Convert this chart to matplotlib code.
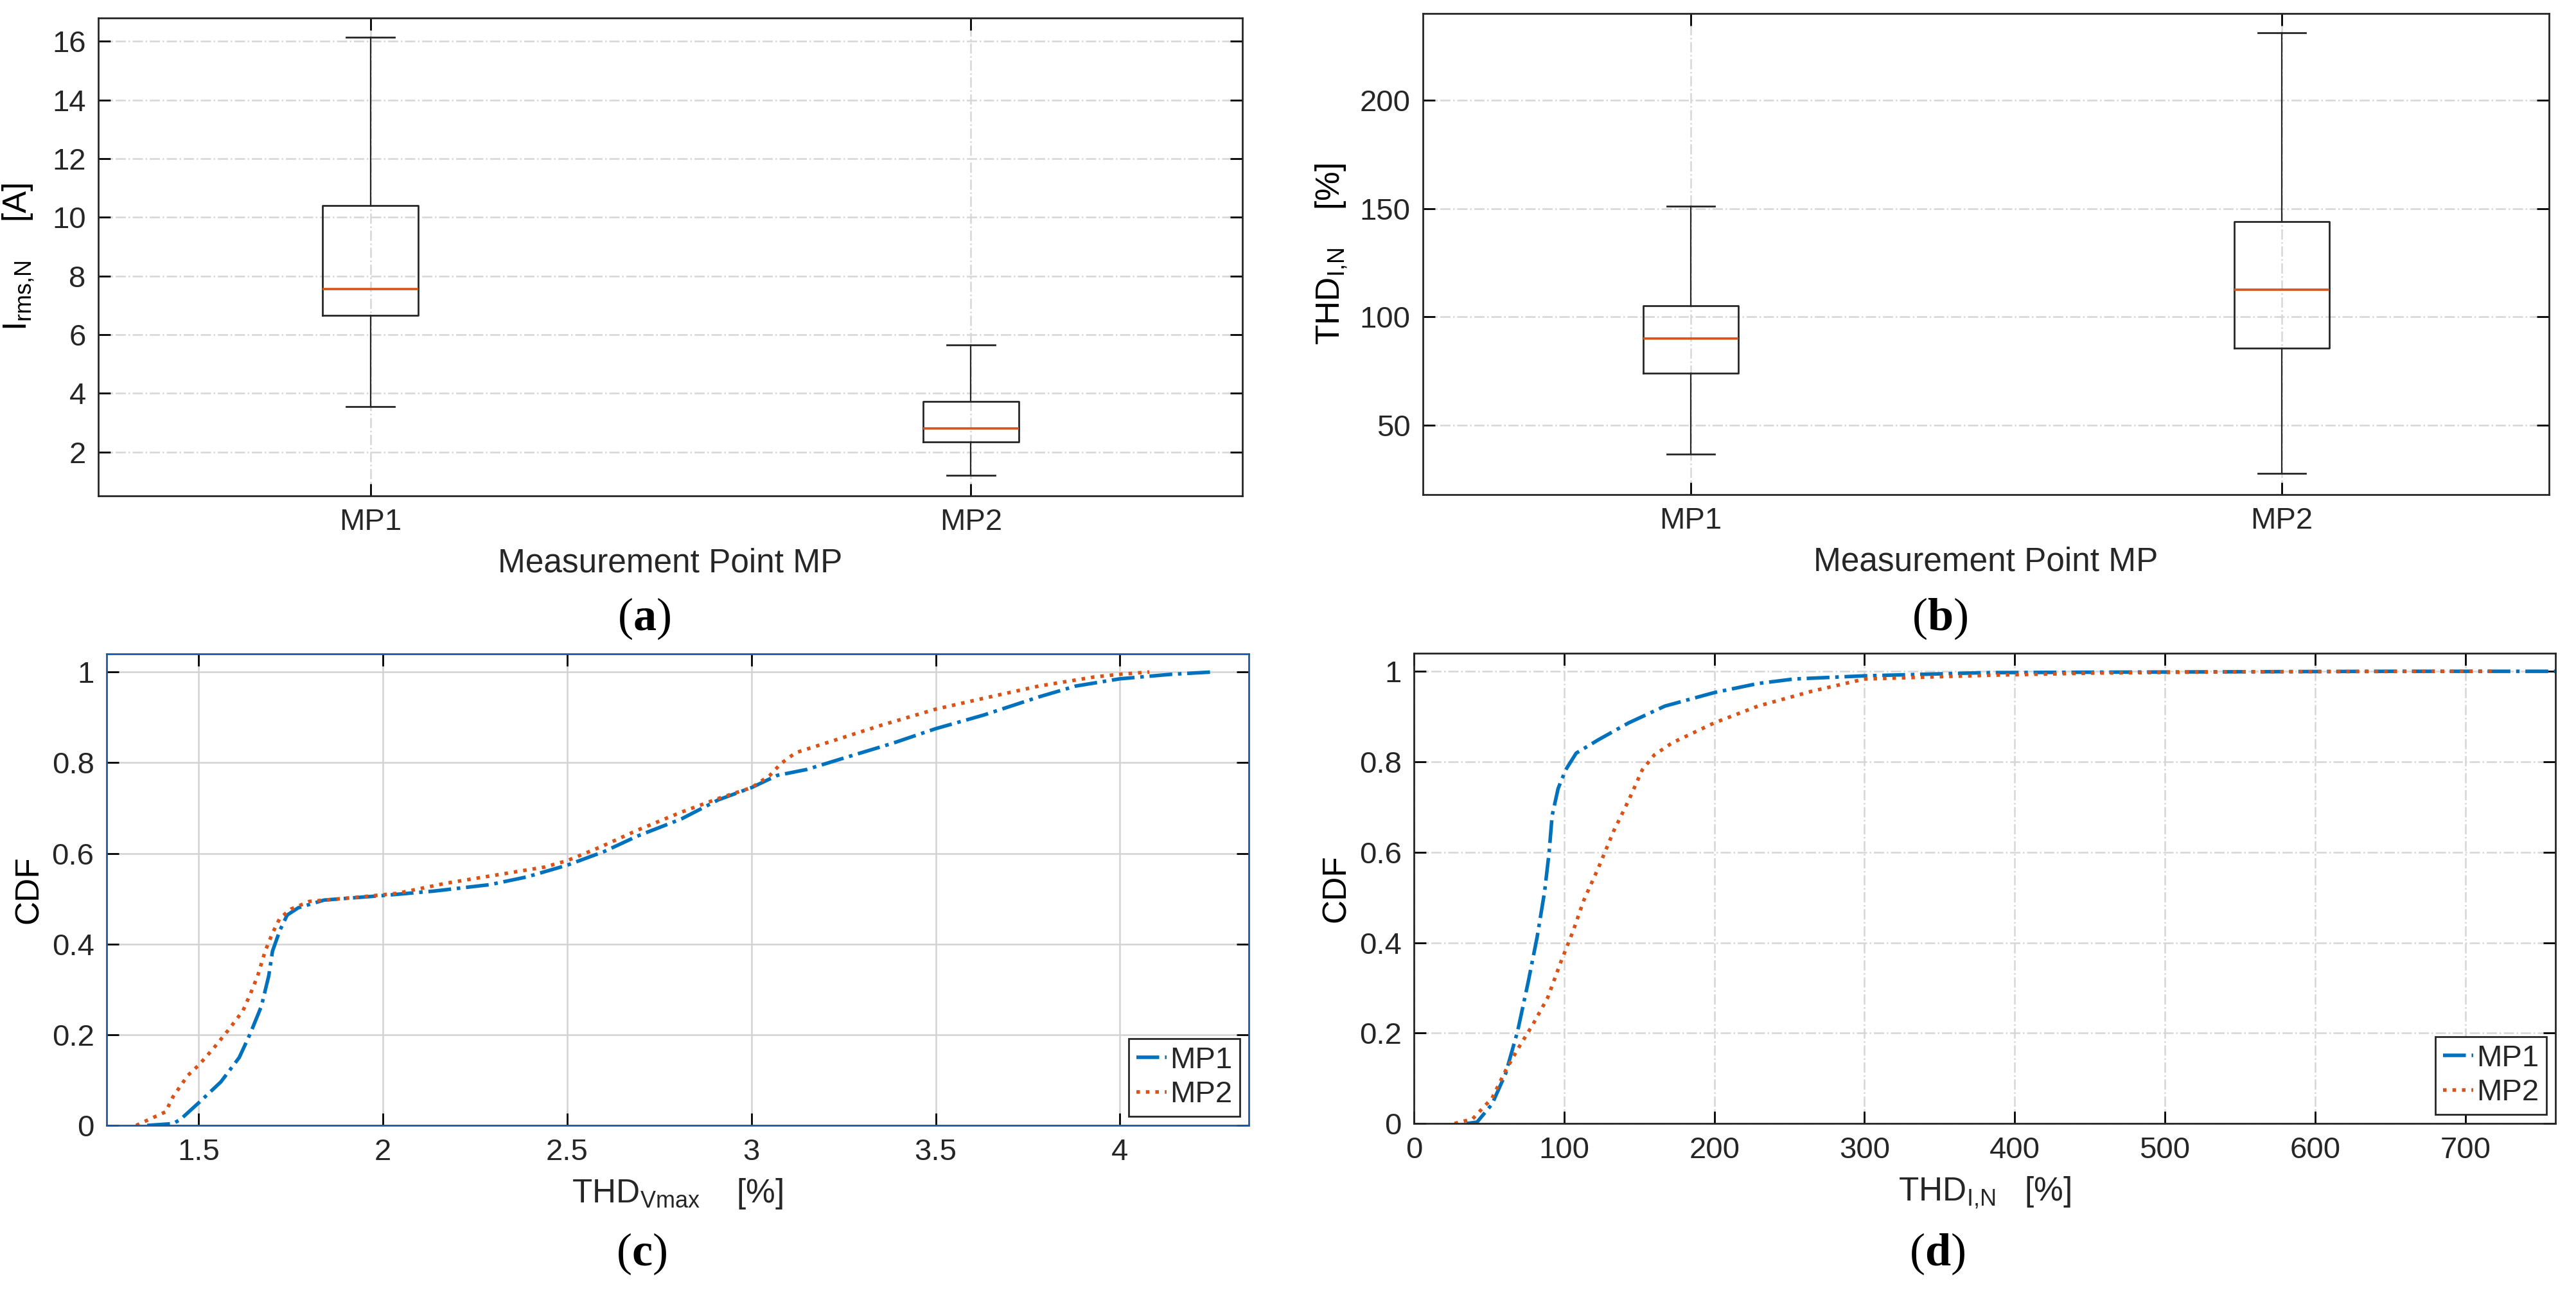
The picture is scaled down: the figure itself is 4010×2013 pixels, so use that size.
import matplotlib
matplotlib.use("Agg")
import matplotlib.pyplot as plt
from matplotlib.ticker import FormatStrFormatter

plt.rcParams['font.family'] = ['Liberation Sans', 'DejaVu Sans']
plt.rcParams['mathtext.default'] = 'regular'
plt.rcParams['mathtext.fontset'] = 'custom'
plt.rcParams['mathtext.bf'] = 'Liberation Serif:bold'

# box plot statistics
points = ["MP1", "MP2"]
irms_lo = [3.55, 1.20]
irms_q1 = [6.66, 2.35]
irms_med = [7.56, 2.80]
irms_q3 = [10.41, 3.72]
irms_hi = [16.15, 5.65]

thd_lo = [36.6, 27.7]
thd_q1 = [74.0, 85.6]
thd_med = [90.1, 112.6]
thd_q3 = [105.2, 144.0]
thd_hi = [151.0, 231.0]

# CDF of THD_Vmax
cv_x1 = [1.36, 1.43, 1.45, 1.50, 1.56, 1.61, 1.64, 1.67, 1.69, 1.70, 1.72, 1.74, 1.77, 1.84, 2.0,
         2.14, 2.29, 2.39, 2.50, 2.60, 2.69, 2.81, 2.91, 3.0, 3.07, 3.15, 3.27, 3.38, 3.5, 3.63,
         3.78, 3.88, 4.0, 4.14, 4.25]
cv_y1 = [0, 0.004, 0.013, 0.05, 0.096, 0.15, 0.203, 0.263, 0.33, 0.384, 0.43, 0.464, 0.48, 0.497, 0.507,
         0.517, 0.531, 0.548, 0.574, 0.604, 0.638, 0.676, 0.718, 0.745, 0.772, 0.785, 0.815, 0.842, 0.875, 0.905,
         0.945, 0.969, 0.985, 0.995, 1.0]
cv_x2 = [1.33, 1.41, 1.43, 1.47, 1.50, 1.54, 1.58, 1.62, 1.64, 1.66, 1.68, 1.70, 1.72, 1.75, 1.80,
         1.94, 2.04, 2.17, 2.29, 2.44, 2.50, 2.59, 2.69, 2.81, 2.91, 3.0, 3.05, 3.08, 3.12, 3.22,
         3.35, 3.5, 3.63, 3.78, 3.93, 4.0, 4.08]
cv_y2 = [0, 0.03, 0.063, 0.11, 0.133, 0.17, 0.21, 0.253, 0.29, 0.33, 0.384, 0.424, 0.457, 0.477, 0.494,
         0.504, 0.512, 0.534, 0.55, 0.57, 0.584, 0.614, 0.651, 0.691, 0.721, 0.745, 0.772, 0.798, 0.822, 0.848,
         0.882, 0.918, 0.942, 0.969, 0.989, 0.995, 1.0]

# CDF of THD_I,N
ci_x1 = [35, 42, 52, 61, 69, 76, 82, 87, 90, 92, 96, 101, 108, 123, 143, 167, 200, 229, 253, 300,
         380, 450, 550, 650, 760]
ci_y1 = [0, 0.003, 0.043, 0.11, 0.204, 0.312, 0.412, 0.513, 0.6, 0.681, 0.741, 0.782, 0.819, 0.849,
         0.886, 0.923, 0.953, 0.973, 0.983, 0.99, 0.997, 0.998, 0.999, 1.0, 1.0]
ci_x2 = [27, 39, 52, 61, 69, 79, 89, 98, 106, 113, 123, 133, 143, 152, 160, 172, 200, 229, 265, 300,
         380, 450, 550, 720]
ci_y2 = [0, 0.01, 0.056, 0.117, 0.164, 0.218, 0.278, 0.359, 0.426, 0.493, 0.567, 0.647, 0.715, 0.782,
         0.815, 0.842, 0.886, 0.923, 0.956, 0.983, 0.991, 0.996, 0.999, 1.0]

BLUE = '#0072BD'
ORANGE = '#D95319'
TXT = '#262626'
TICK_FS = 17
LAB_FS = 18.5

fig = plt.figure(figsize=(20.05, 10.065), dpi=200)
ax_a = fig.add_axes([0.0382, 0.6165, 0.4441, 0.3696])
ax_b = fig.add_axes([0.5524, 0.6175, 0.4371, 0.3721])
ax_c = fig.add_axes([0.0414, 0.1296, 0.4434, 0.3647])
ax_d = fig.add_axes([0.5489, 0.1311, 0.4431, 0.3637])


def style(ax, grid_ls='-.', grid_c='#d6d6d6'):
    ax.tick_params(direction='in', top=True, right=True, length=7, width=1.0,
                   labelsize=TICK_FS, labelcolor=TXT, pad=7)
    ax.grid(True, linestyle=grid_ls, color=grid_c, linewidth=0.9)
    ax.set_axisbelow(True)
    for sp in ax.spines.values():
        sp.set_linewidth(1.0)
        sp.set_color(TXT)


def boxes(ax, lo, q1, med, q3, hi):
    stats = []
    for i in range(len(points)):
        stats.append(dict(whislo=lo[i], q1=q1[i], med=med[i], q3=q3[i], whishi=hi[i],
                          fliers=[], label=points[i]))
    ax.bxp(stats, positions=[1, 2], widths=0.16, showfliers=False,
           boxprops=dict(color=TXT, linewidth=1.0),
           whiskerprops=dict(color=TXT, linewidth=0.8),
           capprops=dict(color=TXT, linewidth=1.0),
           medianprops=dict(color=ORANGE, linewidth=1.3))
    ax.set_xlim(0.547, 2.452)
    ax.set_xticks([1, 2])
    ax.set_xticklabels(points)


# (a)
style(ax_a)
boxes(ax_a, irms_lo, irms_q1, irms_med, irms_q3, irms_hi)
ax_a.set_ylim(0.5, 16.8)
ax_a.set_yticks([2, 4, 6, 8, 10, 12, 14, 16])
ax_a.set_xlabel('Measurement Point MP', fontsize=LAB_FS, color=TXT, labelpad=6)
ax_a.set_ylabel(r'I$_{rms{,}N}$    [A]', fontsize=LAB_FS, color='black', labelpad=9)

# (b)
style(ax_b)
boxes(ax_b, thd_lo, thd_q1, thd_med, thd_q3, thd_hi)
ax_b.set_ylim(18, 240)
ax_b.set_yticks([50, 100, 150, 200])
ax_b.set_xlabel('Measurement Point MP', fontsize=LAB_FS, color=TXT, labelpad=6)
ax_b.set_ylabel(r'THD$_{I{,}N}$    [%]', fontsize=LAB_FS, color='black', labelpad=6)

# (c)
style(ax_c, grid_ls='-', grid_c='#d3d3d3')
ax_c.plot(cv_x1, cv_y1, linestyle='-.', color=BLUE, linewidth=2.0, label='MP1')
ax_c.plot(cv_x2, cv_y2, linestyle=':', color=ORANGE, linewidth=2.0, label='MP2')
ax_c.set_xlim(1.25, 4.35)
ax_c.set_ylim(0, 1.04)
ax_c.set_xticks([1.5, 2, 2.5, 3, 3.5, 4])
ax_c.set_yticks([0, 0.2, 0.4, 0.6, 0.8, 1])
ax_c.xaxis.set_major_formatter(FormatStrFormatter('%g'))
ax_c.yaxis.set_major_formatter(FormatStrFormatter('%g'))
for sp in ax_c.spines.values():
    sp.set_color('#1c57a8')
ax_c.set_xlabel(r'THD$_{Vmax}$    [%]', fontsize=LAB_FS, color=TXT, labelpad=6)
ax_c.set_ylabel('CDF', fontsize=LAB_FS, color='black', labelpad=4)

# (d)
style(ax_d)
ax_d.plot(ci_x1, ci_y1, linestyle='-.', color=BLUE, linewidth=2.0, label='MP1')
ax_d.plot(ci_x2, ci_y2, linestyle=':', color=ORANGE, linewidth=2.0, label='MP2')
ax_d.set_xlim(0, 760)
ax_d.set_ylim(0, 1.04)
ax_d.set_xticks([0, 100, 200, 300, 400, 500, 600, 700])
ax_d.set_yticks([0, 0.2, 0.4, 0.6, 0.8, 1])
ax_d.yaxis.set_major_formatter(FormatStrFormatter('%g'))
ax_d.set_xlabel(r'THD$_{I{,}N}$   [%]', fontsize=LAB_FS, color=TXT, labelpad=6)
ax_d.set_ylabel('CDF', fontsize=LAB_FS, color='black', labelpad=4)

for ax in (ax_c, ax_d):
    leg = ax.legend(loc='lower right', fontsize=TICK_FS, fancybox=False, framealpha=1,
                    handlelength=1.0, handletextpad=0.1, borderpad=0.25, labelspacing=0.2,
                    borderaxespad=0.3)
    leg.get_frame().set_edgecolor(TXT)
    leg.get_frame().set_linewidth(1.0)
    for t in leg.get_texts():
        t.set_color(TXT)

# sub-figure letters
for x, y, s in [(0.2501, 0.5216, 'a'), (0.7531, 0.5216, 'b'),
                (0.2490, 0.0300, 'c'), (0.7520, 0.0300, 'd')]:
    fig.text(x, y, r'($\mathbf{' + s + '}$)', ha='center', va='center', fontsize=26,
             family=['Liberation Serif', 'DejaVu Serif'])

fig.savefig('out.png', dpi=200)
